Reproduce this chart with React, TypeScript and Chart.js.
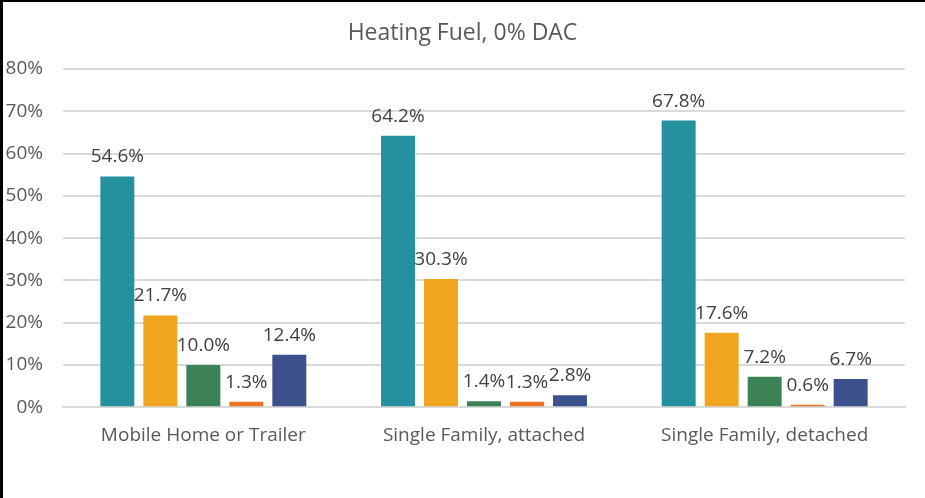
import React, { useEffect, useRef } from "react";
import { Chart, registerables } from "chart.js";

Chart.register(...registerables);

const categories = ["Mobile Home or Trailer", "Single Family, attached", "Single Family, detached"];
const fuel1 = [54.6, 64.2, 67.8];
const fuel2 = [21.7, 30.3, 17.6];
const fuel3 = [10.0, 1.4, 7.2];
const fuel4 = [1.3, 1.3, 0.6];
const fuel5 = [12.4, 2.8, 6.7];
const seriesNames = ["Fuel 1", "Fuel 2", "Fuel 3", "Fuel 4", "Fuel 5"];
const seriesColors = ["#2590A0", "#F0A51E", "#3C8257", "#EB7125", "#3C508C"];
const yTicks = [0, 10, 20, 30, 40, 50, 60, 70, 80];

const FONT = "'Open Sans', sans-serif";
const TEXT = "#595959";

const labelPlugin = {
  id: "barLabels",
  afterDatasetsDraw(chart: any) {
    const ctx = chart.ctx;
    ctx.save();
    ctx.font = `19px ${FONT}`;
    ctx.fillStyle = "#404040";
    ctx.textAlign = "center";
    ctx.textBaseline = "alphabetic";
    chart.data.datasets.forEach((ds: any, i: number) => {
      const meta = chart.getDatasetMeta(i);
      meta.data.forEach((bar: any, j: number) => {
        const v = ds.data[j];
        ctx.fillText(v.toFixed(1) + "%", bar.x, bar.y - 14);
      });
    });
    ctx.restore();
  },
};

export default function App() {
  const ref = useRef<HTMLCanvasElement>(null);
  useEffect(() => {
    const data = [fuel1, fuel2, fuel3, fuel4, fuel5];
    const chart = new Chart(ref.current!, {
      type: "bar",
      data: {
        labels: categories,
        datasets: data.map((d, i) => ({
          label: seriesNames[i],
          data: d,
          backgroundColor: seriesColors[i],
          categoryPercentage: 0.766,
          barPercentage: 0.79,
        })),
      },
      options: {
        animation: false,
        responsive: false,
        maintainAspectRatio: false,
        layout: { padding: { left: 0, right: 0, top: 0, bottom: 34 } },
        plugins: {
          legend: { display: false },
          tooltip: { enabled: false },
          title: {
            display: true,
            text: "Heating Fuel, 0% DAC",
            color: TEXT,
            font: { family: FONT, size: 23, weight: "normal" },
            padding: { top: 19.5, bottom: 21.9 },
          },
        },
        scales: {
          x: {
            grid: { display: false, drawTicks: false },
            border: { display: true, color: "#D9D9D9", width: 2 },
            ticks: { color: TEXT, font: { family: FONT, size: 19 }, padding: 17 },
          },
          y: {
            min: 0,
            max: 80,
            afterFit: (s: any) => { s.width = 63; },
            afterBuildTicks: (s: any) => { s.ticks = yTicks.map((v) => ({ value: v })); },
            grid: { color: "#D9D9D9", lineWidth: 2, drawTicks: false },
            border: { display: false },
            ticks: {
              color: TEXT,
              font: { family: FONT, size: 19 },
              padding: 20,
              callback: (v: any) => v + "%",
            },
          },
          spacer: {
            type: "linear",
            position: "right",
            display: true,
            min: 0,
            max: 80,
            afterFit: (s: any) => { s.width = 20; },
            grid: { display: false, drawTicks: false },
            border: { display: false },
            ticks: { display: false },
          },
        },
      },
      plugins: [labelPlugin],
    });
    return () => chart.destroy();
  }, []);
  return (
    <div style={{ position: "fixed", left: 0, top: 0, width: 925, height: 498, background: "#fff" }}>
      <canvas ref={ref} width={925} height={498} style={{ position: "absolute", left: 0, top: 0 }} />
      <div style={{ position: "absolute", left: 0, top: 0, width: 925, height: 498, borderTop: "2px solid #000", borderLeft: "3px solid #000", boxSizing: "border-box", pointerEvents: "none" }} />
    </div>
  );
}
